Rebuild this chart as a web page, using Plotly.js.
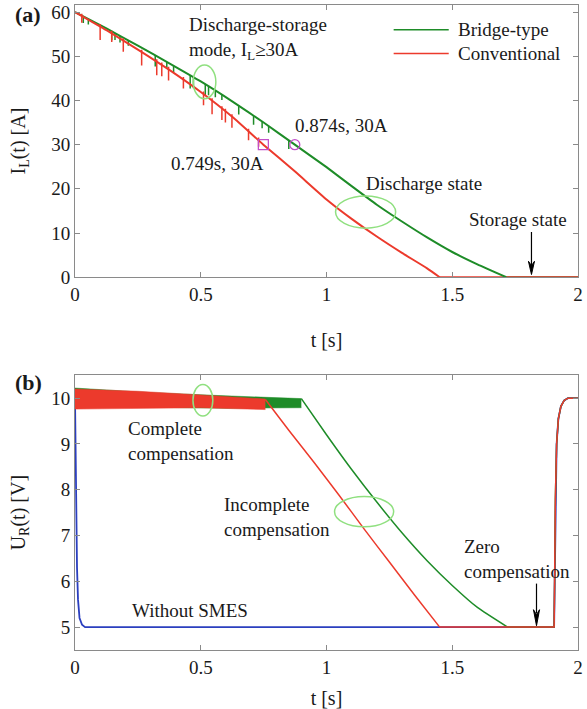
<!DOCTYPE html>
<html>
<head>
<meta charset="utf-8">
<script src="https://cdn.plot.ly/plotly-3.0.1.min.js"></script>
<style>html,body{margin:0;padding:0;background:#fff;}</style>
</head>
<body>
<div id="chart" style="width:587px;height:709px;"></div>
<script>
// ---------- Data ----------
const seriesNames = ['Bridge-type', 'Conventional'];

// Panel (a): inductor current I_L(t) (discharging part), then storage state at 0 A
const tGreen = [0, 0.125, 0.25, 0.375, 0.5, 0.625, 0.75, 0.874, 1.0, 1.1, 1.2, 1.3, 1.4, 1.5, 1.6, 1.715];
const iGreen = [60, 56.3, 52.4, 48.4, 44.3, 39.8, 35.0, 30.0, 24.9, 20.6, 16.4, 12.6, 9.0, 5.7, 2.9, 0];
const tRed = [0, 0.125, 0.25, 0.375, 0.5, 0.625, 0.749, 0.875, 1.0, 1.1, 1.2, 1.3, 1.4, 1.45];
const iRed = [60, 55.9, 51.5, 46.9, 41.9, 36.3, 30.0, 23.9, 17.6, 13.2, 9.2, 5.5, 2.0, 0];
const tEnd = 2.0;
const iStorage = 0;

// discharge-storage switching spikes
const greenSpikeT   = [0.033, 0.053, 0.146, 0.159, 0.179, 0.212, 0.319, 0.365, 0.392, 0.458, 0.471, 0.518, 0.531, 0.558, 0.584, 0.651, 0.710, 0.744, 0.770, 0.850];
const greenSpikeTop = [59.0, 58.4, 55.6, 55.2, 54.6, 53.6, 50.2, 48.7, 47.8, 45.7, 45.25, 43.65, 43.2, 42.2, 41.3, 38.8, 36.5, 35.2, 34.2, 31.0];
const greenSpikeLow = [57.5, 57.2, 53.6, 53.7, 53.1, 52.4, 47.7, 47.2, 46.3, 42.7, 42.75, 41.15, 41.2, 40.7, 40.1, 36.8, 34.5, 33.7, 32.7, 29.0];
const redSpikeT   = [0.027, 0.100, 0.146, 0.192, 0.265, 0.325, 0.345, 0.372, 0.431, 0.511, 0.545, 0.584, 0.598, 0.624, 0.690, 0.730];
const redSpikeTop = [59.6, 57.3, 55.8, 54.1, 51.5, 49.3, 48.6, 47.6, 45.3, 42.0, 40.5, 38.7, 38.1, 36.9, 33.6, 31.6];
const redSpikeLow = [57.6, 53.7, 53.2, 51.0, 47.9, 45.7, 45.5, 44.5, 42.7, 38.9, 36.9, 35.6, 35.0, 33.8, 31.0, 29.5];

// 30 A switching points
const markT = [0.749, 0.874];
const markI = [30, 30];
const markSymbols = ['square-open', 'circle-open'];

// Panel (b): load voltage U_R(t)
const gBandT  = [0, 0.3, 0.6, 0.9];
const gBandHi = [10.22, 10.12, 10.05, 9.99];
const gBandLo = [9.80, 9.80, 9.78, 9.79];
const gDescT = [0.9, 1.0, 1.1, 1.2, 1.3, 1.4, 1.5, 1.6, 1.72];
const gDescU = [9.99, 9.2, 8.44, 7.73, 7.06, 6.45, 5.91, 5.43, 5.0];

const rBandT  = [0, 0.25, 0.5, 0.757];
const rBandHi = [10.2, 10.15, 10.07, 9.98];
const rBandLo = [9.76, 9.77, 9.79, 9.75];
const rDescT = [0.757, 0.85, 0.95, 1.05, 1.15, 1.25, 1.35, 1.45];
const rDescU = [9.97, 9.3, 8.6, 7.88, 7.14, 6.42, 5.7, 5.0];

const blueT = [0, 0.002, 0.005, 0.008, 0.012, 0.018, 0.028, 0.04];
const blueU = [10, 8.8, 7.3, 6.3, 5.6, 5.2, 5.05, 5.0];

const riseT = [1.905, 1.907, 1.91, 1.915, 1.922, 1.932, 1.945, 1.96, 2.0];
const riseU = [5.0, 6.0, 7.8, 9.0, 9.55, 9.82, 9.95, 10.0, 10.0];

// ---------- Styles ----------
const GREEN = '#1e8c28';
const RED = '#ec3a2c';
const BLUE = '#2b3fbf';
const MAGENTA = '#c24fc9';
const ELL = '#90e080';
const TXT = '#1a1a1a';
const AX = '#8a8a8a';
const FONT = "'Liberation Serif', 'Times New Roman', serif";

function spikes(t, top, low) {
  const x = [], y = [];
  for (let i = 0; i < t.length; i++) { x.push(t[i], t[i], null); y.push(top[i], low[i], null); }
  return {x, y};
}
const gs = spikes(greenSpikeT, greenSpikeTop, greenSpikeLow);
const rs = spikes(redSpikeT, redSpikeTop, redSpikeLow);
const last = a => a[a.length - 1];

const sm = {shape: 'spline', smoothing: 0.5};

const traces = [
  // panel (a)
  {x: [last(tGreen), tEnd], y: [last(iGreen), iStorage], xaxis: 'x', yaxis: 'y', mode: 'lines', line: {color: GREEN, width: 2}, cliponaxis: false},
  {x: [last(tRed), tEnd], y: [last(iRed), iStorage], xaxis: 'x', yaxis: 'y', mode: 'lines', line: {color: RED, width: 2}, cliponaxis: false},
  {x: tGreen, y: iGreen, xaxis: 'x', yaxis: 'y', mode: 'lines', line: Object.assign({color: GREEN, width: 2}, sm), name: seriesNames[0]},
  {x: gs.x, y: gs.y, xaxis: 'x', yaxis: 'y', mode: 'lines', line: {color: GREEN, width: 1.5}, connectgaps: false, hoverinfo: 'skip'},
  {x: tRed, y: iRed, xaxis: 'x', yaxis: 'y', mode: 'lines', line: Object.assign({color: RED, width: 2}, sm), name: seriesNames[1]},
  {x: rs.x, y: rs.y, xaxis: 'x', yaxis: 'y', mode: 'lines', line: {color: RED, width: 1.5}, connectgaps: false, hoverinfo: 'skip'},
  {x: markT, y: markI, xaxis: 'x', yaxis: 'y', mode: 'markers',
   marker: {symbol: markSymbols, size: 10, color: MAGENTA, line: {color: MAGENTA, width: 1.3}}},
  // panel (b)
  {x: blueT.concat(riseT), y: blueU.concat(riseU), xaxis: 'x2', yaxis: 'y2', mode: 'lines', line: {color: BLUE, width: 1.8}},
  {x: gBandT, y: gBandLo, xaxis: 'x2', yaxis: 'y2', mode: 'lines', line: {color: GREEN, width: 0.5}},
  {x: gBandT, y: gBandHi, xaxis: 'x2', yaxis: 'y2', mode: 'lines', fill: 'tonexty', fillcolor: GREEN, line: {color: GREEN, width: 0.5}},
  {x: gDescT, y: gDescU, xaxis: 'x2', yaxis: 'y2', mode: 'lines', line: Object.assign({color: GREEN, width: 1.5}, sm)},
  {x: [last(gDescT)].concat(riseT), y: [last(gDescU)].concat(riseU), xaxis: 'x2', yaxis: 'y2', mode: 'lines', line: {color: GREEN, width: 1.5}},
  {x: rBandT, y: rBandLo, xaxis: 'x2', yaxis: 'y2', mode: 'lines', line: {color: RED, width: 0.5}},
  {x: rBandT, y: rBandHi, xaxis: 'x2', yaxis: 'y2', mode: 'lines', fill: 'tonexty', fillcolor: RED, line: {color: RED, width: 0.5}},
  {x: rDescT, y: rDescU, xaxis: 'x2', yaxis: 'y2', mode: 'lines', line: Object.assign({color: RED, width: 1.5}, sm)},
  {x: [last(rDescT)].concat(riseT), y: [last(rDescU)].concat(riseU), xaxis: 'x2', yaxis: 'y2', mode: 'lines', line: {color: RED, width: 1.5}}
];

const axisCommon = {
  showline: true, linecolor: AX, linewidth: 1, mirror: 'ticks',
  ticks: 'inside', ticklen: 5, tickcolor: AX, tickwidth: 1,
  showgrid: false, zeroline: false,
  tickfont: {family: FONT, size: 19, color: TXT}
};

const layout = {
  width: 587, height: 709,
  margin: {l: 75, r: 9, t: 5, b: 59},
  paper_bgcolor: '#fff', plot_bgcolor: '#fff',
  font: {family: FONT, size: 19, color: TXT},
  showlegend: false,
  xaxis: Object.assign({}, axisCommon, {domain: [0, 1], anchor: 'y', range: [0, 2], dtick: 0.5,
    title: {text: 't [s]', font: {family: FONT, size: 20, color: TXT}}}),
  yaxis: Object.assign({}, axisCommon, {domain: [0.578, 1], anchor: 'x', range: [0, 61.6], dtick: 10,
    title: {text: 'I<sub>L</sub>(t) [A]', font: {family: FONT, size: 20, color: TXT}}}),
  xaxis2: Object.assign({}, axisCommon, {domain: [0, 1], anchor: 'y2', range: [0, 2], dtick: 0.5,
    title: {text: 't [s]', font: {family: FONT, size: 20, color: TXT}}}),
  yaxis2: Object.assign({}, axisCommon, {domain: [0, 0.426], anchor: 'x2', range: [4.5, 10.5], dtick: 1,
    title: {text: 'U<sub>R</sub>(t) [V]', font: {family: FONT, size: 20, color: TXT}}}),
  shapes: [
    {type: 'circle', xref: 'x', yref: 'y', x0: 0.47, x1: 0.56, y0: 40.4, y1: 48.0, line: {color: ELL, width: 1.5}},
    {type: 'circle', xref: 'x', yref: 'y', x0: 1.036, x1: 1.275, y0: 11.1, y1: 18.4, line: {color: ELL, width: 1.5}},
    {type: 'circle', xref: 'x2', yref: 'y2', x0: 0.469, x1: 0.548, y0: 9.61, y1: 10.3, line: {color: ELL, width: 1.5}},
    {type: 'circle', xref: 'x2', yref: 'y2', x0: 1.032, x1: 1.267, y0: 7.19, y1: 7.85, line: {color: ELL, width: 1.5}},
    // legend samples
    {type: 'line', xref: 'x', yref: 'y', x0: 1.267, x1: 1.486, y0: 56.0, y1: 56.0, line: {color: GREEN, width: 1.5}},
    {type: 'line', xref: 'x', yref: 'y', x0: 1.267, x1: 1.486, y0: 50.6, y1: 50.6, line: {color: RED, width: 1.5}},
    // arrow (a): Storage state
    {type: 'line', xref: 'x', yref: 'y', x0: 1.815, x1: 1.815, y0: 10.2, y1: 2.5, line: {color: '#000', width: 1.2}},
    {type: 'path', xref: 'x', yref: 'y', path: 'M1.803,3.6 L1.815,0.6 L1.827,3.6 L1.815,2.6 Z', fillcolor: '#000', line: {color: '#000', width: 1}},
    // arrow (b): Zero compensation
    {type: 'line', xref: 'x2', yref: 'y2', x0: 1.835, x1: 1.835, y0: 5.95, y1: 5.3, line: {color: '#000', width: 1.2}},
    {type: 'path', xref: 'x2', yref: 'y2', path: 'M1.823,5.38 L1.835,5.03 L1.847,5.38 L1.835,5.27 Z', fillcolor: '#000', line: {color: '#000', width: 1}}
  ],
  annotations: [
    {xref: 'paper', yref: 'paper', x: -0.123, y: 0.9845, xanchor: 'left', yanchor: 'middle', showarrow: false,
     text: '<b>(a)</b>', font: {size: 22}},
    {xref: 'paper', yref: 'paper', x: -0.123, y: 0.414, xanchor: 'left', yanchor: 'middle', showarrow: false,
     text: '<b>(b)</b>', font: {size: 22}},
    {xref: 'x', yref: 'y', x: 1.514, y: 56.0, xanchor: 'left', yanchor: 'middle', showarrow: false, text: seriesNames[0]},
    {xref: 'x', yref: 'y', x: 1.514, y: 50.6, xanchor: 'left', yanchor: 'middle', showarrow: false, text: seriesNames[1]},
    {xref: 'x', yref: 'y', x: 0.446, y: 54.0, xanchor: 'left', yanchor: 'middle', align: 'left', showarrow: false,
     text: 'Discharge-storage<br>mode, I<sub>L</sub>≥30A'},
    {xref: 'x', yref: 'y', x: 0.865, y: 34.3, xanchor: 'left', yanchor: 'middle', showarrow: false, text: '0.874s, 30A'},
    {xref: 'x', yref: 'y', x: 0.568, y: 25.8, xanchor: 'center', yanchor: 'middle', showarrow: false, text: '0.749s, 30A'},
    {xref: 'x', yref: 'y', x: 1.387, y: 21.2, xanchor: 'center', yanchor: 'middle', showarrow: false, text: 'Discharge state'},
    {xref: 'x', yref: 'y', x: 1.76, y: 13.1, xanchor: 'center', yanchor: 'middle', showarrow: false, text: 'Storage state'},
    {xref: 'x2', yref: 'y2', x: 0.203, y: 9.07, xanchor: 'left', yanchor: 'middle', align: 'left', showarrow: false,
     text: 'Complete<br>compensation'},
    {xref: 'x2', yref: 'y2', x: 0.586, y: 7.4, xanchor: 'left', yanchor: 'middle', align: 'left', showarrow: false,
     text: 'Incomplete<br>compensation'},
    {xref: 'x2', yref: 'y2', x: 1.538, y: 6.48, xanchor: 'left', yanchor: 'middle', align: 'left', showarrow: false,
     text: 'Zero<br>compensation'},
    {xref: 'x2', yref: 'y2', x: 0.456, y: 5.36, xanchor: 'center', yanchor: 'middle', showarrow: false, text: 'Without SMES'}
  ]
};

Plotly.newPlot('chart', traces, layout, {displayModeBar: false, staticPlot: true});
</script>
</body>
</html>
